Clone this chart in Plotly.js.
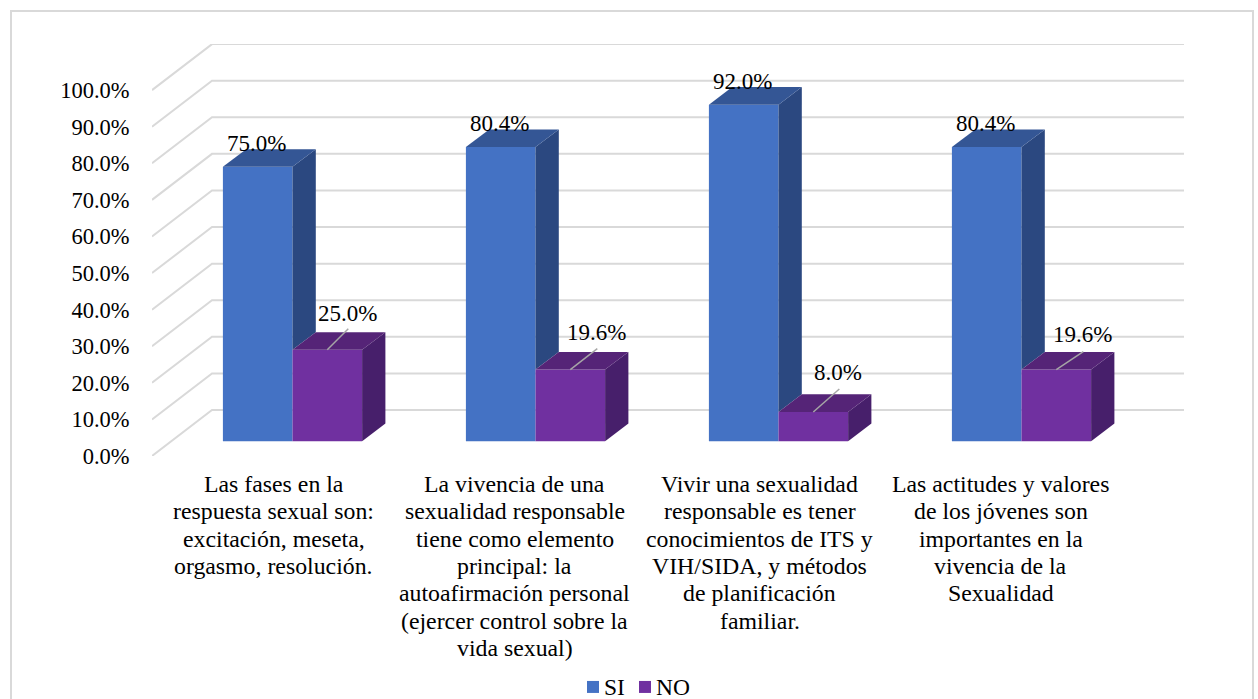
<!DOCTYPE html>
<html>
<head>
<meta charset="utf-8">
<script src="https://cdn.plot.ly/plotly-3.0.1.min.js"></script>
<style>html,body{margin:0;padding:0;background:#fff;overflow:hidden}</style>
</head>
<body>
<div id="chart" style="width:1258px;height:699px"></div>
<script>
// ---- data ----
const categories = [
  ["Las fases en la","respuesta sexual son:","excitación, meseta,","orgasmo, resolución."],
  ["La vivencia de una","sexualidad responsable","tiene como elemento","principal: la","autoafirmación personal","(ejercer control sobre la","vida sexual)"],
  ["Vivir una sexualidad","responsable es tener","conocimientos de ITS y","VIH/SIDA, y métodos","de planificación","familiar."],
  ["Las actitudes y valores","de los jóvenes son","importantes en la","vivencia de la","Sexualidad"]
];
const seriesNames = ["SI", "NO"];
const si = [75.0, 80.4, 92.0, 80.4];
const no = [25.0, 19.6, 8.0, 19.6];
const yTicks = [0, 10, 20, 30, 40, 50, 60, 70, 80, 90, 100];

// ---- styling / projection constants ----
const PX_X = 243, PX_Y = 3.66;              // pixels per category, per percent
const L = 152, FLOOR_Y = 456, TOP_Y = 43.9, RIGHT = 1184;
const wallDX = 60 / PX_X, wallDY = 46 / PX_Y;    // depth of the whole floor
const barDX = 23.3 / PX_X, barDY = 17.7 / PX_Y;  // depth of a bar
const planeX = 19 / PX_X, planeY = 14.7 / PX_Y;  // bars' front plane inside the floor
const barW = 69.6 / PX_X;
const FONT = "Liberation Serif";
const FS_Y = 22.5, FS_X = 23.8, FS_LABEL = 23, FS_LEGEND = 23.5;
const LINE_H = 27.3, X_FIRST_LINE = 28;
const colors = {
  si: {front:"#4472C4", top:"#345695", side:"#2B4880"},
  no: {front:"#7030A0", top:"#552477", side:"#471F6B"}
};
const labelOffset = [[20,-36],[26,-37],[25,-40],[26,-35]];   // NO label, pixels from the bar's top centre
const leaderOffset = [[21,-21],[27,-21],[26,-23],[27,-18]];  // NO leader line end, pixels
const catNudge = [0,-2,0,-2];

const pos = categories.map((_, i) => i + 0.5);
const barX = pos.map(p => p + planeX);

function face(xs, ys, color) {
  return {type:"scatter", mode:"lines", x:xs, y:ys, fill:"toself", fillcolor:color,
          line:{width:0, color:color}, hoverinfo:"skip", showlegend:false};
}
const traces = [];
traces.push({type:"bar", name:seriesNames[0], x:barX, y:si, base:barX.map(() => planeY),
             marker:{color:colors.si.front, line:{width:0}}, hoverinfo:"y", showlegend:false});
traces.push({type:"bar", name:seriesNames[1], x:barX, y:no, base:barX.map(() => planeY),
             marker:{color:colors.no.front, line:{width:0}}, hoverinfo:"y", showlegend:false});

barX.forEach((c, i) => {
  const t1 = si[i] + planeY, t2 = no[i] + planeY;
  traces.push(face([c, c, c+barDX, c+barDX, c], [t2, t1, t1+barDY, t2+barDY, t2], colors.si.side));
  traces.push(face([c-barW, c, c+barDX, c-barW+barDX, c-barW], [t1, t1, t1+barDY, t1+barDY, t1], colors.si.top));
  const r = c + barW;
  traces.push(face([r, r, r+barDX, r+barDX, r], [planeY, t2, t2+barDY, planeY+barDY, planeY], colors.no.side));
  traces.push(face([c, r, r+barDX, c+barDX, c], [t2, t2, t2+barDY, t2+barDY, t2], colors.no.top));
  // leader line of the NO label
  const m = c + barW/2;
  traces.push({type:"scatter", mode:"lines", x:[m, m + leaderOffset[i][0]/PX_X],
    y:[t2, t2 - leaderOffset[i][1]/PX_Y], line:{color:"#A6A6A6", width:1.5},
    hoverinfo:"skip", showlegend:false});
});

// back wall gridlines
const xMax = (RIGHT - L) / PX_X, yMax = (FLOOR_Y - TOP_Y) / PX_Y;
const shapes = yTicks.map(v => ({
  type:"path", layer:"below", xref:"x", yref:"y",
  path:`M 0 ${v} L ${wallDX} ${v + wallDY} L ${xMax} ${v + wallDY}`,
  line:{color:"#D9D9D9", width:2}
}));
// chart frame
const plotW = RIGHT - L, plotH = FLOOR_Y - TOP_Y;
const pxX = p => (p - L) / plotW, pxY = p => (FLOOR_Y - p) / plotH;
shapes.push({type:"rect", layer:"below", xref:"paper", yref:"paper",
  x0:pxX(11), x1:pxX(1253), y0:pxY(710), y1:pxY(11),
  line:{color:"#D9D9D9", width:2}});

const annotations = [];
barX.forEach((c, i) => {
  annotations.push({x:c - barW/2, y:si[i] + planeY, xref:"x", yref:"y",
    text:si[i].toFixed(1) + "%", showarrow:false, xanchor:"center", yanchor:"middle",
    xshift:-1.5, yshift:23.5, font:{family:FONT, size:FS_LABEL, color:"#000"}});
  annotations.push({x:c + barW/2, y:no[i] + planeY, xref:"x", yref:"y",
    text:no[i].toFixed(1) + "%", showarrow:false, xanchor:"center", yanchor:"middle",
    xshift:labelOffset[i][0], yshift:-labelOffset[i][1],
    font:{family:FONT, size:FS_LABEL, color:"#000"}});
});
// category labels, one annotation per line (Word's tight line spacing)
categories.forEach((lines, i) => lines.forEach((t, k) => {
  annotations.push({x:pos[i], y:0, xref:"x", yref:"y", text:t, showarrow:false,
    xanchor:"center", yanchor:"middle", xshift:catNudge[i], yshift:-(X_FIRST_LINE + k*LINE_H),
    font:{family:FONT, size:FS_X, color:"#000"}});
}));
// legend
const legendItems = [[587, 604, colors.si.front], [639, 656, colors.no.front]];
seriesNames.forEach((n, i) => {
  const it = legendItems[i];
  shapes.push({type:"rect", xref:"paper", yref:"paper", x0:pxX(it[0]), x1:pxX(it[0]+12),
    y0:pxY(693), y1:pxY(681), fillcolor:it[2], line:{width:0}});
  annotations.push({x:pxX(it[1]), y:pxY(687), xref:"paper", yref:"paper", text:n, showarrow:false,
    xanchor:"left", yanchor:"middle", xshift:-2, font:{family:FONT, size:FS_LEGEND, color:"#000"}});
});

const layout = {
  width:1258, height:699,
  margin:{l:L, r:1258 - RIGHT, t:TOP_Y, b:699 - FLOOR_Y, pad:0},
  paper_bgcolor:"#fff", plot_bgcolor:"rgba(0,0,0,0)",
  font:{family:FONT, size:FS_Y, color:"#000"},
  barmode:"group", bargap:1 - 2*barW, bargroupgap:0,
  showlegend:false,
  xaxis:{type:"linear", range:[0, xMax], tickmode:"array", tickvals:pos, ticktext:pos.map(()=>""),
         showticklabels:false, showgrid:false, zeroline:false, showline:false, ticks:"", automargin:false},
  yaxis:{type:"linear", range:[0, yMax], tickmode:"array", tickvals:yTicks,
         ticktext:yTicks.map(v => v.toFixed(1) + "%"),
         showgrid:false, zeroline:false, showline:false, ticks:"outside", ticklen:17, tickcolor:"rgba(0,0,0,0)",
         automargin:false, tickfont:{family:FONT, size:FS_Y, color:"#000"}},
  shapes:shapes, annotations:annotations
};
Plotly.newPlot("chart", traces, layout, {displayModeBar:false, responsive:false});
</script>
</body>
</html>
